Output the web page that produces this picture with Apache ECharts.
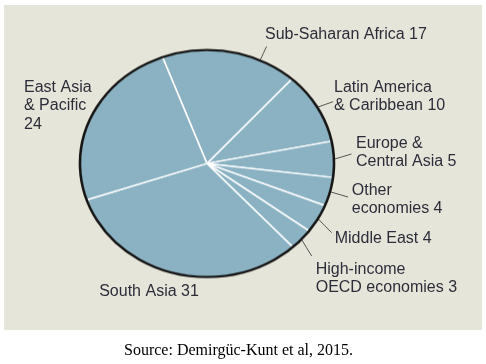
<!DOCTYPE html>
<html><head><meta charset="utf-8">
<script src="https://cdn.jsdelivr.net/npm/echarts@6/dist/echarts.min.js"></script>
<style>
html,body{margin:0;padding:0;background:#fff;}
#wrap{position:relative;width:486px;height:364px;overflow:hidden;}
#base,#pie{position:absolute;left:0;top:0;width:486px;height:364px;}
#pie{transform-origin:207px 163.5px;transform:scaleY(0.894);}
</style></head><body>
<div id="wrap"><div id="base"></div><div id="pie"></div></div>
<script>
// ---- data ----
const categories = ['Sub-Saharan Africa', 'Latin America & Caribbean', 'Europe & Central Asia', 'Other economies', 'Middle East', 'High-income OECD economies', 'South Asia', 'East Asia & Pacific'];
const labelNames = ['Sub-Saharan Africa', 'Latin America\n& Caribbean', 'Europe &\nCentral Asia', 'Other\neconomies', 'Middle East', 'High-income\nOECD economies', 'South Asia', 'East Asia\n& Pacific'];
const values = [17, 10, 5, 4, 4, 3, 31, 24];
const sourceText = 'Source: Demirgüc-Kunt et al, 2015.';

// ---- geometry / style ----
const CX = 207, CY = 163.5, R = 127, K = 0.894, START = 110.5;
const FONT = '"Liberation Sans", Arial, sans-serif';
const total = values.reduce((a, b) => a + b, 0);
function midAngle(i) {
  let before = 0;
  for (let j = 0; j < i; j++) before += values[j];
  return -(START - 90) + 360 * (before + values[i] / 2) / total;
}
// label placement (text top-left, leader end point)
const place = [
  {x: 265, y: 25.5, lx: 266.5, ly: 46.5, shift: 14},
  {x: 334, y: 78.4, lx: 333, ly: 101.7},
  {x: 356, y: 134.1, lx: 351.5, ly: 154},
  {x: 351.8, y: 181.2, lx: 348, ly: 197},
  {x: 334.7, y: 229.2, lx: 331.7, ly: 232.7},
  {x: 315.7, y: 260.3, lx: 311.7, ly: 256},
  {x: 99.2, y: 282.4},
  {x: 24, y: 78.4}
];

const base = echarts.init(document.getElementById('base'), null, {renderer: 'canvas'});
base.setOption({
  animation: false,
  graphic: [
    {type: 'rect', z: -10, silent: true, shape: {x: 4, y: 5, width: 478, height: 325}, style: {fill: '#e6e5da'}},
    {type: 'text', silent: true, x: 238.5, y: 350.5, style: {text: sourceText, font: '16px "Liberation Serif", "Times New Roman", serif', fill: '#000', align: 'center', verticalAlign: 'middle'}}
  ],
  series: [{
    type: 'pie', center: [CX, CY], radius: [0, R], startAngle: START, clockwise: true,
    silent: true, avoidLabelOverlap: false,
    itemStyle: {color: 'rgba(0,0,0,0)', borderWidth: 0},
    label: {
      show: true, position: 'outside',
      formatter: p => labelNames[p.dataIndex] + (p.dataIndex === 7 ? '\n' : ' ') + p.value,
      fontFamily: FONT, fontSize: 16, lineHeight: 18.4, color: '#2d2d3a'
    },
    labelLine: {show: true, lineStyle: {color: '#555555', width: 1}},
    labelLayout: function (p) {
      const i = p.dataIndex, pl = place[i];
      const out = {x: pl.x, y: pl.y, align: 'left', verticalAlign: 'top'};
      if (pl.lx != null) {
        const th = (midAngle(i) + (pl.shift || 0)) * Math.PI / 180;
        const sx = CX + R * Math.sin(th), sy = CY - R * K * Math.cos(th);
        out.labelLinePoints = [[sx, sy], [(sx + pl.lx) / 2, (sy + pl.ly) / 2], [pl.lx, pl.ly]];
      }
      return out;
    },
    data: categories.map((c, i) => ({
      name: c, value: values[i],
      labelLine: {show: place[i].lx != null}
    }))
  }]
});

const pie = echarts.init(document.getElementById('pie'), null, {renderer: 'svg'});
pie.setOption({
  animation: false,
  series: [
    {
      type: 'pie', center: [CX, CY], radius: [0, R], startAngle: START, clockwise: true,
      silent: true, label: {show: false}, labelLine: {show: false},
      itemStyle: {color: '#8ab2c2', borderColor: '#ffffff', borderWidth: 1.6},
      data: categories.map((c, i) => ({name: c, value: values[i]}))
    },
    {
      type: 'pie', center: [CX, CY], radius: [0, R], silent: true,
      label: {show: false}, labelLine: {show: false},
      itemStyle: {color: 'rgba(0,0,0,0)', borderColor: '#161616', borderWidth: 2.6},
      data: [{name: 'outline', value: 1}]
    }
  ]
});
</script>
</body></html>
